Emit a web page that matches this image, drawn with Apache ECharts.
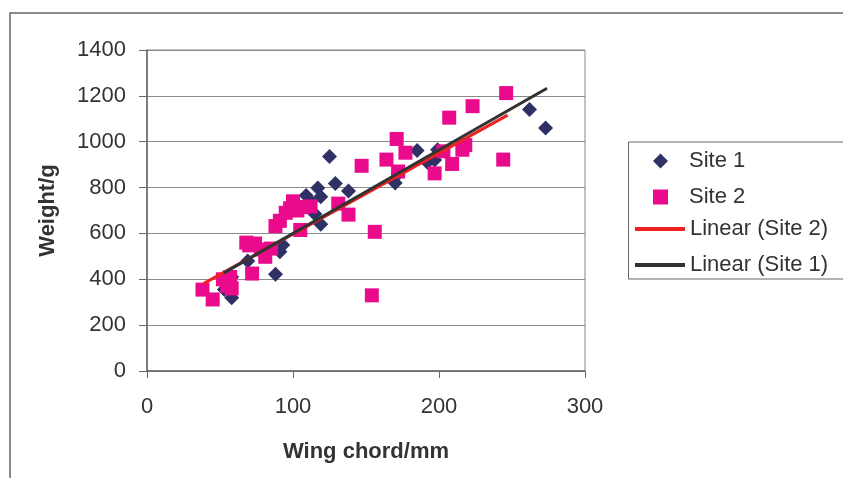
<!DOCTYPE html>
<html>
<head>
<meta charset="utf-8">
<script src="https://cdn.jsdelivr.net/npm/echarts@6/dist/echarts.min.js"></script>
<style>
html,body{margin:0;padding:0;background:#fff;}
#c{width:843px;height:478px;}
</style>
</head>
<body>
<div id="c"></div>
<script>
// Site 1 (diamonds): wing chord (mm), weight (g)
const site1X = [53, 58, 58, 69, 88, 91, 93, 109, 112, 117, 119, 115, 119, 125, 129, 138, 170, 172, 185, 192, 197, 199, 262, 273];
const site1Y = [355, 320, 410, 480, 422, 520, 550, 765, 740, 798, 760, 685, 640, 935, 818, 785, 820, 860, 962, 910, 920, 965, 1140, 1060];
// Site 2 (squares)
const site2X = [38, 45, 52, 55, 57, 58, 68, 70, 74, 72, 78, 81, 85, 88, 91, 95, 98, 100, 103, 105, 107, 112, 131, 138, 147, 154, 156, 164, 171, 172, 177, 197, 203, 207, 209, 216, 218, 223, 244, 246];
const site2Y = [355, 312, 400, 372, 410, 360, 560, 548, 556, 425, 530, 498, 534, 632, 655, 690, 710, 740, 700, 615, 715, 718, 730, 682, 895, 330, 607, 922, 1012, 870, 952, 862, 958, 1105, 903, 965, 985, 1155, 922, 1212];
// Linear trend lines (end points)
const trend2X = [38.7, 247];
const trend2Y = [381, 1116];
const trend1X = [52.7, 274];
const trend1Y = [428, 1233];
// Axis ticks
const xTicks = [0, 100, 200, 300];
const yTicks = [0, 200, 400, 600, 800, 1000, 1200, 1400];

const zip = (a, b) => a.map((v, i) => [v, b[i]]);
const FONT = '"Liberation Sans", Arial, sans-serif';
const plain = v => String(v);

const chart = echarts.init(document.getElementById('c'), null, {renderer: 'canvas'});
chart.setOption({
  animation: false,
  backgroundColor: '#ffffff',
  grid: {left: 147, right: 258, top: 50, bottom: 107, show: true, borderColor: '#888', borderWidth: 1},
  xAxis: {
    type: 'value', min: xTicks[0], max: xTicks[xTicks.length - 1], interval: 100,
    axisLine: {onZero: false, lineStyle: {color: '#666', width: 1.5}},
    axisTick: {show: true, length: 7, lineStyle: {color: '#666'}},
    splitLine: {show: false},
    axisLabel: {fontFamily: FONT, fontSize: 22, color: '#333', margin: 25, formatter: plain},
    name: 'Wing chord/mm', nameLocation: 'middle', nameGap: 70,
    nameTextStyle: {fontFamily: FONT, fontSize: 22, fontWeight: 'bold', color: '#333'}
  },
  yAxis: {
    type: 'value', min: yTicks[0], max: yTicks[yTicks.length - 1], interval: 200,
    axisLine: {show: true, lineStyle: {color: '#666', width: 1.5}},
    axisTick: {show: true, length: 8, lineStyle: {color: '#666'}},
    splitLine: {show: true, lineStyle: {color: '#8a8a8a', width: 1}},
    axisLabel: {fontFamily: FONT, fontSize: 22, color: '#333', margin: 21, formatter: plain},
    name: 'Weight/g', nameLocation: 'middle', nameGap: 88, nameRotate: 90,
    nameTextStyle: {fontFamily: FONT, fontSize: 22, fontWeight: 'bold', color: '#333'}
  },
  legend: [
    {
      orient: 'vertical', left: 648, top: 145, itemWidth: 15, itemHeight: 15, itemGap: 14,
      data: [{name: 'Site 1', icon: 'diamond'}, {name: 'Site 2', icon: 'rect'}],
      textStyle: {fontFamily: FONT, fontSize: 22, color: '#333', lineHeight: 20, padding: [0, 0, 0, 16]}
    },
    {
      orient: 'vertical', left: 630, top: 213, itemWidth: 50, itemHeight: 4, itemGap: 14, symbolKeepAspect: false,
      data: [{name: 'Linear (Site 2)', icon: 'rect'}, {name: 'Linear (Site 1)', icon: 'rect'}],
      textStyle: {fontFamily: FONT, fontSize: 22, color: '#333', lineHeight: 20}
    }
  ],
  graphic: [
    {type: 'polyline', silent: true, shape: {points: [[10, 480], [10, 13], [845, 13]]}, style: {stroke: '#666', lineWidth: 1.5, fill: null}},
    {type: 'rect', silent: true, shape: {x: 628.5, y: 142, width: 230, height: 137}, style: {stroke: '#666', lineWidth: 1, fill: null}, z: -1}
  ],
  series: [
    {
      name: 'Site 1', type: 'scatter', symbol: 'diamond', symbolSize: [15, 15],
      itemStyle: {color: '#2f3066', opacity: 1}, data: zip(site1X, site1Y), z: 2
    },
    {
      name: 'Site 2', type: 'scatter', symbol: 'rect', symbolSize: 14,
      itemStyle: {color: '#ea0a8c', opacity: 1}, data: zip(site2X, site2Y), z: 3
    },
    {
      name: 'Linear (Site 2)', type: 'line', symbol: 'none', showSymbol: false,
      lineStyle: {color: '#ee2222', width: 3}, itemStyle: {color: '#ee2222'},
      data: zip(trend2X, trend2Y), z: 4
    },
    {
      name: 'Linear (Site 1)', type: 'line', symbol: 'none', showSymbol: false,
      lineStyle: {color: '#333333', width: 3}, itemStyle: {color: '#333333'},
      data: zip(trend1X, trend1Y), z: 5
    }
  ]
});
</script>
</body>
</html>
